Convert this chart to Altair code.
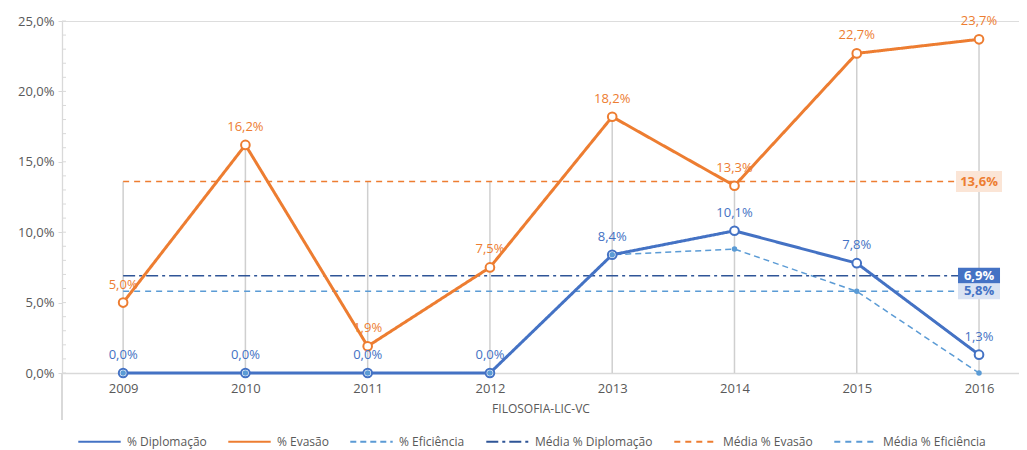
import altair as alt
import pandas as pd

years = [2009, 2010, 2011, 2012, 2013, 2014, 2015, 2016]
diplomacao = [0.0, 0.0, 0.0, 0.0, 8.4, 10.1, 7.8, 1.3]
evasao = [5.0, 16.2, 1.9, 7.5, 18.2, 13.3, 22.7, 23.7]
eficiencia = [0.0, 0.0, 0.0, 0.0, 8.4, 8.8, 5.8, 0.0]
media_diplomacao = 6.9
media_evasao = 13.6
media_eficiencia = 5.8

series_names = ["% Diplomação", "% Evasão", "% Eficiência",
                "Média % Diplomação", "Média % Evasão", "Média % Eficiência"]
series_colors = ["#4472C4", "#ED7D31", "#5B9BD5", "#2F5597", "#ED7D31", "#5B9BD5"]
series_dash = [[1, 0], [1, 0], [6, 4], [12, 4, 3, 4], [6, 5], [6, 5]]
y_ticks = [0, 5, 10, 15, 20, 25]
minor_ticks = list(range(0, 26))
x_title = "FILOSOFIA-LIC-VC"

FONT = "Open Sans"
GRAY = "#595959"

def fmt(v):
    return f"{v:.1f}%".replace(".", ",")

rows = []
for name, vals in zip(series_names[:3], [diplomacao, evasao, eficiencia]):
    for y, v in zip(years, vals):
        rows.append({"series": name, "year": y, "value": v, "label": fmt(v)})
for name, m in zip(series_names[3:], [media_diplomacao, media_evasao, media_eficiencia]):
    for y in years:
        rows.append({"series": name, "year": y, "value": m, "label": fmt(m)})
df = pd.DataFrame(rows)

hl = df.groupby("year", as_index=False)["value"].max().rename(columns={"value": "top"})
hl["low"] = 0.0

means_df = pd.DataFrame({
    "series": series_names[3:],
    "year": [years[-1]] * 3,
    "value": [media_diplomacao, media_evasao, media_eficiencia],
    "label": [fmt(media_diplomacao), fmt(media_evasao), fmt(media_eficiencia)],
    "bg": ["#4472C4", "#FBE5D6", "#DAE3F3"],
    "fg": ["#FFFFFF", "#ED7D31", "#4472C4"],
})
minor_df = pd.DataFrame({"v": minor_ticks})

W, H = 957, 352
xscale = alt.Scale(domain=[2008.5, 2016.327], nice=False, zero=False)
yscale = alt.Scale(domain=[0, 25], nice=False)

color_scale = alt.Scale(domain=series_names, range=series_colors)
dash_scale = alt.Scale(domain=series_names, range=series_dash)

X = alt.X("year:Q", scale=xscale,
          axis=alt.Axis(values=years, format="d", title=x_title, grid=False, ticks=False,
                        domainColor="#D9D9D9", domainWidth=1.3, labelColor=GRAY,
                        labelFontSize=13, labelFont=FONT, labelPadding=9,
                        titleFont=FONT, titleFontSize=12, titleFontWeight="normal",
                        titleColor=GRAY, titlePadding=8))
Y = alt.Y("value:Q", scale=yscale,
          axis=alt.Axis(values=y_ticks, title=None, grid=False,
                        labelExpr="replace(format(datum.value, '.1f'), '.', ',') + '%'",
                        domainColor="#D9D9D9", domainWidth=1.3, tickColor="#D9D9D9",
                        tickSize=4, labelColor=GRAY, labelFontSize=13, labelFont=FONT,
                        labelPadding=4))

base = alt.Chart(df)

hilo = alt.Chart(hl).mark_rule(color="#CFCFCF", strokeWidth=1.5).encode(
    x=alt.X("year:Q", scale=xscale), y=alt.Y("low:Q", scale=yscale), y2="top:Q")

minor = alt.Chart(minor_df).mark_rule(color="#D9D9D9", strokeWidth=1).encode(
    x=alt.value(0), x2=alt.value(4), y=alt.Y("v:Q", scale=yscale))

yext = alt.Chart(minor_df).mark_rule(color="#D9D9D9", strokeWidth=1.3).encode(
    x=alt.value(0), y=alt.value(H), y2=alt.value(H + 47))

legend = alt.Legend(title=None, orient="none", legendX=15, legendY=398,
                    direction="horizontal", symbolType="stroke", symbolSize=1800,
                    symbolStrokeWidth=2, labelFontSize=12, labelFont=FONT,
                    labelColor=GRAY, columnPadding=17, labelOffset=5)

color_enc = alt.Color("series:N", scale=color_scale, legend=legend)
dash_enc = alt.StrokeDash("series:N", scale=dash_scale, legend=legend)

thin_lines = base.transform_filter(
    alt.FieldOneOfPredicate(field="series", oneOf=series_names[2:])
).mark_line(strokeWidth=1.5).encode(x=X, y=Y, color=color_enc, strokeDash=dash_enc,
                                     detail="series:N")

main_lines = base.transform_filter(
    alt.FieldOneOfPredicate(field="series", oneOf=series_names[:2])
).mark_line(strokeWidth=3).encode(x=X, y=Y, color=color_enc, strokeDash=dash_enc,
                                   detail="series:N")

main_points = base.transform_filter(
    alt.FieldOneOfPredicate(field="series", oneOf=series_names[:2])
).mark_point(shape="circle", filled=True, fill="white", strokeWidth=2, size=75,
             opacity=1).encode(
    x=X, y=Y,
    stroke=alt.Stroke("series:N", scale=alt.Scale(domain=series_names[:2],
                                                   range=series_colors[:2]), legend=None))

ef_points = base.transform_filter(
    alt.datum.series == "% Eficiência"
).mark_circle(size=30, color="#5B9BD5", opacity=1).encode(x=X, y=Y)

labels = base.transform_filter(
    alt.FieldOneOfPredicate(field="series", oneOf=series_names[:2])
).mark_text(dy=-18, fontSize=13, font=FONT, baseline="middle").encode(
    x=X, y=Y, text="label:N",
    color=alt.Color("series:N", scale=color_scale, legend=None))

mean_base = alt.Chart(means_df)
box_enc = dict(x=alt.X("year:Q", scale=xscale), y=alt.Y("value:Q", scale=yscale),
               fill=alt.Fill("bg:N", scale=None))
box_big = mean_base.transform_filter(alt.datum.series == "Média % Evasão").mark_rect(
    width=46, height=21).encode(**box_enc)
box_small = mean_base.transform_filter(alt.datum.series != "Média % Evasão").mark_rect(
    width=42, height=16).encode(**box_enc)

box_text = mean_base.mark_text(fontSize=13, font=FONT, fontWeight="bold",
                               baseline="middle").encode(
    x=alt.X("year:Q", scale=xscale), y=alt.Y("value:Q", scale=yscale),
    text="label:N", color=alt.Color("fg:N", scale=None))

chart = alt.layer(
    hilo, minor, yext, thin_lines, main_lines, main_points, ef_points, labels,
    box_big, box_small, box_text
).properties(
    width=W, height=H,
    autosize=alt.AutoSizeParams(type="none"),
    padding={"left": 54, "top": 13, "right": 0, "bottom": 80},
).configure_view(stroke=None).configure(background="white")

chart.save("out.html", embed_options={"renderer": "svg", "actions": False})
